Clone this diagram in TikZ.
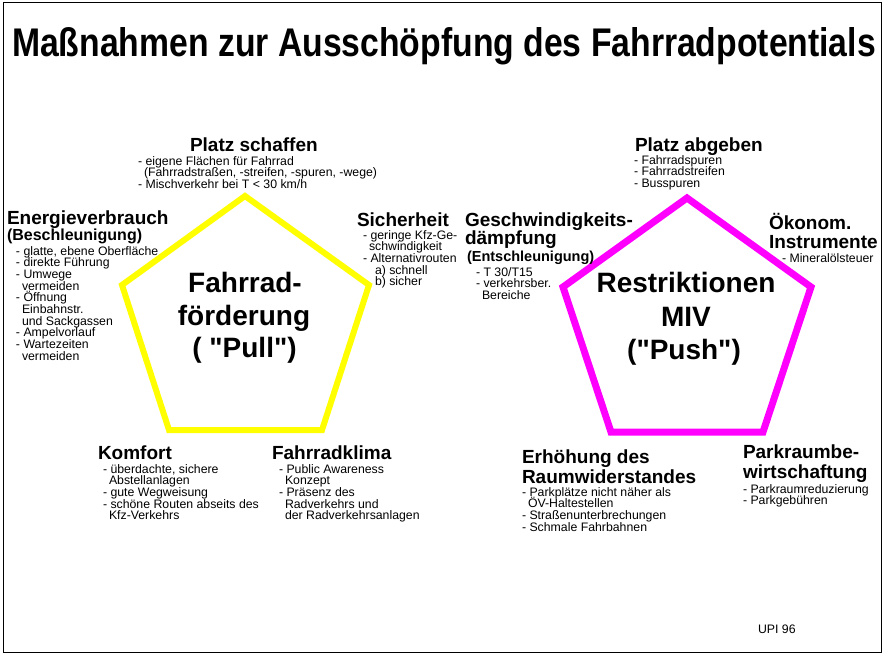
\documentclass[tikz,border=0pt]{standalone}
\usepackage{fontspec}
\setmainfont{Liberation Sans}
\newfontfamily\plainarial{Liberation Sans}
\usepackage{graphicx}
\definecolor{pullyellow}{RGB}{255,255,0}
\definecolor{pushmagenta}{RGB}{255,0,255}
\newcommand\Bl[2][11.7pt]{\vtop{\baselineskip=#1\lineskiplimit=-20pt\lineskip=0pt #2}}
\newcommand\Li[1]{\hbox{#1}}
\newcommand\Ind{\hspace*{6pt}}

\begin{document}
\begin{tikzpicture}[x=1pt,y=-1pt,
  every node/.style={inner sep=0pt, outer sep=0pt},
  head/.style={anchor=base west, font=\fontsize{19}{20}\selectfont\bfseries},
  sub/.style={anchor=base west, font=\fontsize{16}{17}\selectfont\bfseries},
  subb/.style={anchor=base west, font=\fontsize{14.5}{16}\selectfont\bfseries},
  small/.style={anchor=base west, font=\fontsize{12.3}{11.7}\selectfont},
  centre/.style={anchor=base, font=\plainarial\fontsize{28}{30}\selectfont\bfseries},
  pull/.style={draw=pullyellow, line width=6pt, line join=miter},
  push/.style={draw=pushmagenta, line width=7pt, line join=miter}]

\fill[white] (0,0) rectangle (886,658);
\useasboundingbox (0,0) rectangle (886,658);
\draw[line width=1pt] (3,3) rectangle (881,652);

% title
\node[anchor=base] (title) at (444,57)
  {\scalebox{0.843}[1]{\fontsize{40}{40}\selectfont\bfseries Maßnahmen zur Ausschöpfung des Fahrradpotentials}};

% pentagons
\coordinate (l1) at (245,196);
\coordinate (l2) at (369,285);
\coordinate (l3) at (322,430);
\coordinate (l4) at (169,430);
\coordinate (l5) at (122,285);
\draw[pull] (l1) -- (l2) -- (l3) -- (l4) -- (l5) -- cycle;

\coordinate (r1) at (687,198);
\coordinate (r2) at (811,287);
\coordinate (r3) at (763,432);
\coordinate (r4) at (611,432);
\coordinate (r5) at (563,287);
\draw[push] (r1) -- (r2) -- (r3) -- (r4) -- (r5) -- cycle;

% centre texts
\node[centre] (c1) at (245,292) {Fahrrad-};
\node[centre] (c2) at (244,325) {förderung};
\node[centre] (c3) at (244.5,357) {( "Pull")};
\node[centre] (d1) at (686,292) {Restriktionen};
\node[centre] (d2) at (686,326) {MIV};
\node[centre] (d3) at (684,359) {("Push")};

% left: Platz schaffen
\node[head] (ps) at (190,151) {Platz schaffen};
\node[small] (psl) at (138,165) {\Bl{\Li{- eigene Flächen für Fahrrad}\Li{\Ind(Fahrradstraßen, -streifen, -spuren, -wege)}\Li{- Mischverkehr bei T < 30 km/h}}};

% Energieverbrauch
\node[head] (ev) at (7,224) {Energieverbrauch};
\node[sub] (evs) at (7,240) {(Beschleunigung)};
\node[small] (evl) at (16,255) {\Bl{\Li{- glatte, ebene Oberfläche}\Li{- direkte Führung}\Li{- Umwege}\Li{\Ind vermeiden}\Li{- Öffnung}\Li{\Ind Einbahnstr.}\Li{\Ind und Sackgassen}\Li{- Ampelvorlauf}\Li{- Wartezeiten}\Li{\Ind vermeiden}}};

% Sicherheit
\node[head] (si) at (357,226) {Sicherheit};
\node[small] (sil) at (363,239) {\Bl{\Li{- geringe Kfz-Ge-}\Li{\Ind schwindigkeit}\Li{- Alternativrouten}\Li{\hspace*{12pt}a) schnell}\Li{\hspace*{12pt}b) sicher}}};

% Komfort
\node[head] (ko) at (98,459) {Komfort};
\node[small] (kol) at (103,473) {\Bl{\Li{- überdachte, sichere}\Li{\Ind Abstellanlagen}\Li{- gute Wegweisung}\Li{- schöne Routen abseits des}\Li{\Ind Kfz-Verkehrs}}};

% Fahrradklima
\node[head] (fk) at (272,459) {Fahrradklima};
\node[small] (fkl) at (279,473) {\Bl{\Li{- Public Awareness}\Li{\Ind Konzept}\Li{- Präsenz des}\Li{\Ind Radverkehrs und}\Li{\Ind der Radverkehrsanlagen}}};

% right: Platz abgeben
\node[head] (pa) at (635,151) {Platz abgeben};
\node[small] (pal) at (634,164.3) {\Bl[11.5pt]{\Li{- Fahrradspuren}\Li{- Fahrradstreifen}\Li{- Busspuren}}};

% Geschwindigkeitsdaempfung
\node[head] (gd) at (465,226) {\Bl[18pt]{\Li{Geschwindigkeits-}\Li{dämpfung}}};
\node[subb] (gds) at (467,261.5) {(Entschleunigung)};
\node[small] (gdl) at (476,276) {\Bl{\Li{- T 30/T15}\Li{- verkehrsber.}\Li{\Ind Bereiche}}};

% Oekonom. Instrumente
\node[head] (oi) at (769,229) {\Bl[19.5pt]{\Li{Ökonom.}\Li{Instrumente}}};
\node[small] (oil) at (782,262) {- Mineralölsteuer};

% Erhoehung des Raumwiderstandes
\node[head] (er) at (522,463) {\Bl[20pt]{\Li{Erhöhung des}\Li{Raumwiderstandes}}};
\node[small] (erl) at (522,496) {\Bl{\Li{- Parkplätze nicht näher als}\Li{\Ind ÖV-Haltestellen}\Li{- Straßenunterbrechungen}\Li{- Schmale Fahrbahnen}}};

% Parkraumbewirtschaftung
\node[head] (pr) at (743,458) {\Bl[20pt]{\Li{Parkraumbe-}\Li{wirtschaftung}}};
\node[small] (prl) at (743,493) {\Bl{\Li{- Parkraumreduzierung}\Li{- Parkgebühren}}};

% source
\node[small] (upi) at (758,633) {UPI 96};
\end{tikzpicture}
\end{document}
